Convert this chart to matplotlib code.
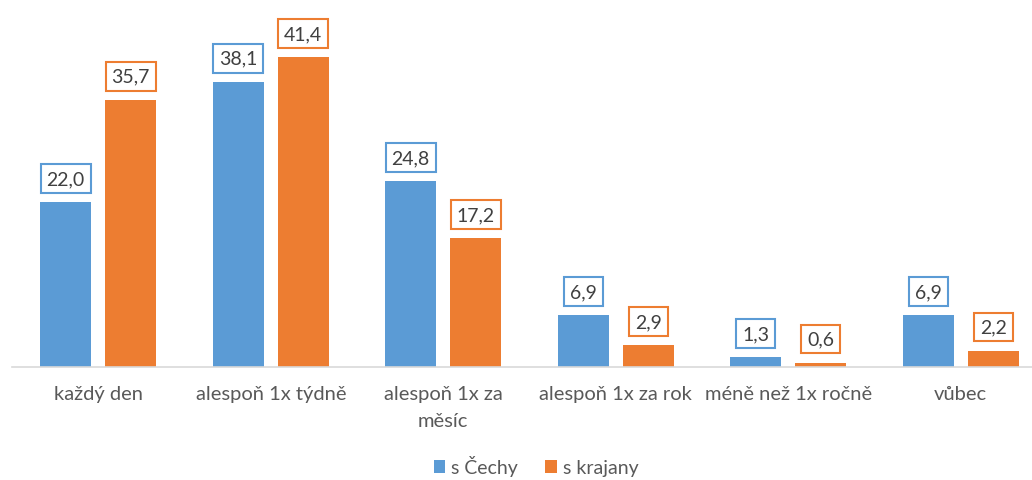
import numpy as np
import matplotlib.pyplot as plt

plt.rcParams['font.family'] = ['Lato', 'DejaVu Sans']

categories = ['každý den', 'alespoň 1x týdně', 'alespoň 1x za\nměsíc',
              'alespoň 1x za rok', 'méně než 1x ročně', 'vůbec']
s_cechy = [22.0, 38.1, 24.8, 6.9, 1.3, 6.9]
s_krajany = [35.7, 41.4, 17.2, 2.9, 0.6, 2.2]
series = [('s Čechy', s_cechy, '#5B9BD5'), ('s krajany', s_krajany, '#ED7D31')]

fig = plt.figure(figsize=(10.32, 4.81), dpi=100)
ax = fig.add_axes([12 / 1032, 1 - 368 / 481, 1020 / 1032, 363 / 481])

x = np.arange(len(categories))
w = 0.296
off = w / 2 + 0.0405
for i, (name, vals, col) in enumerate(series):
    pos = x + (-off if i == 0 else off)
    ax.bar(pos, vals, width=w, color=col, label=name)
    for px, v in zip(pos, vals):
        ax.annotate(f'{v:.1f}'.replace('.', ','), (px, v), xytext=(0, 17),
                    textcoords='offset points', ha='center', va='center',
                    fontsize=14, color='#404040',
                    bbox=dict(boxstyle='square,pad=0.3', fc='white', ec=col, lw=1.5))

ax.set_xlim(-0.5, -0.5 + 1020 / 172.5)
ax.set_ylim(0, 48.5)
ax.set_yticks([])
ax.set_xticks(x)
ax.set_xticklabels(categories, fontsize=14.5, color='#595959', va='top',
                   linespacing=1.7)
ax.tick_params(axis='x', length=0, pad=13)
for s in ['top', 'right', 'left']:
    ax.spines[s].set_visible(False)
ax.spines['bottom'].set_color('#d9d9d9')
ax.spines['bottom'].set_linewidth(1.2)

ax.legend(loc='center', bbox_to_anchor=(524 / 1020, -99 / 363), ncol=2, frameon=False,
          fontsize=14, labelcolor='#595959', handlelength=0.6, handleheight=0.6,
          handletextpad=0.3, columnspacing=1.4)

fig.savefig('out.png', dpi=100)
